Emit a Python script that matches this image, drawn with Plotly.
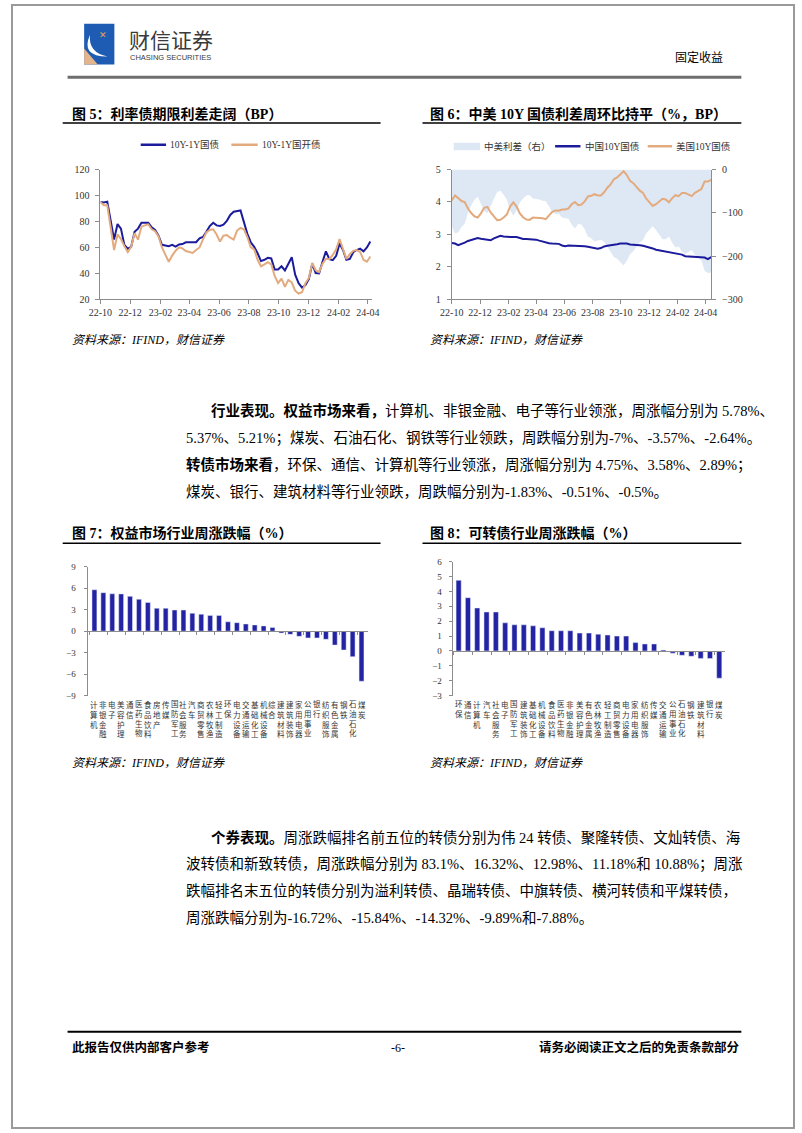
import plotly.graph_objects as go
import pandas as pd

W, H = 802, 1133
def X(px): return px / W
def Y(py): return 1 - py / H

SERIF = "Liberation Serif, Noto Sans CJK SC"

# ---------------- data ----------------
# Fig 5: 10Y-1Y term spreads (BP), weekly
dates5 = pd.date_range("2022-10-01", periods=80, freq="7D")
spread_gz = [95, 94.7, 95.3, 82, 66, 78, 74.5, 62, 59, 60.5,
             72, 74.5, 79, 79, 79, 75.5, 73.5, 69, 62, 61.5,
             61, 62, 60.7, 62.3, 62.6, 64, 64, 64, 64, 67,
             68, 72, 76.5, 79, 77, 76.5, 77.5, 80.5, 85, 87.5,
             88, 88.5, 79.5, 70.5, 64, 60.5, 55.5, 49.5, 50.5, 52,
             51.5, 43, 43, 45.5, 42.3, 48, 52.5, 39, 32.5, 29,
             31, 35.5, 47.5, 40.3, 40, 49, 57, 51, 50.2, 53.5,
             63, 58, 50.5, 51.2, 56.3, 58, 59, 57, 60, 64.5]
spread_gk = [95, 92.5, 92.5, 76, 58, 70, 66.5, 61, 56.5, 60.5,
             71, 66, 76, 77, 77.8, 74, 72.5, 68.5, 60, 54.5,
             49, 53.7, 57.5, 60, 59.3, 57.2, 56.5, 55.8, 58, 60,
             66, 71.5, 73.5, 74, 70, 64.5, 69, 69.5, 67.5, 66,
             73, 75, 74, 68, 60, 58.5, 50.5, 45.5, 47, 48.6,
             47, 38, 32.5, 36, 29.7, 35, 33, 26.7, 24.5, 25.5,
             32.5, 36.5, 48, 42.5, 41, 47.5, 51.3, 51, 54.2, 58.5,
             66.5, 59.5, 51.2, 54.8, 57.4, 58, 56.6, 50.5, 49, 53]

# Fig 6: China / US 10Y yields (%), spread (BP), weekly
dates6 = pd.date_range("2022-10-01", periods=81, freq="7D")
cn10 = [2.74, 2.72, 2.67, 2.70, 2.75, 2.80, 2.83, 2.86, 2.89, 2.87,
        2.86, 2.84, 2.82, 2.88, 2.92, 2.96, 2.94, 2.92, 2.92, 2.92,
        2.92, 2.89, 2.86, 2.86, 2.86, 2.85, 2.84, 2.81, 2.78, 2.74,
        2.73, 2.72, 2.71, 2.71, 2.66, 2.64, 2.66, 2.66, 2.64, 2.64,
        2.65, 2.64, 2.62, 2.60, 2.58, 2.56, 2.58, 2.63, 2.65, 2.66,
        2.68, 2.70, 2.72, 2.73, 2.72, 2.69, 2.69, 2.69, 2.67, 2.65,
        2.63, 2.60, 2.57, 2.53, 2.51, 2.49, 2.47, 2.44, 2.43, 2.41,
        2.40, 2.38, 2.33, 2.32, 2.32, 2.31, 2.31, 2.30, 2.29, 2.24,
        2.30]
us10 = [4.05, 4.20, 4.12, 4.03, 4.00, 3.80, 3.66, 3.56, 3.52, 3.65,
        3.82, 3.85, 3.68, 3.56, 3.44, 3.45, 3.52, 3.62, 3.86, 3.99,
        3.86, 3.65, 3.53, 3.46, 3.45, 3.52, 3.52, 3.50, 3.50, 3.47,
        3.58, 3.70, 3.74, 3.73, 3.77, 3.77, 3.80, 3.93, 4.00, 3.90,
        3.92, 4.02, 4.17, 4.19, 4.24, 4.20, 4.20, 4.30, 4.44, 4.54,
        4.70, 4.76, 4.85, 4.95, 4.83, 4.65, 4.58, 4.46, 4.35, 4.28,
        4.10, 3.99, 3.88, 3.93, 4.03, 4.10, 4.08, 3.99, 4.12, 4.21,
        4.18, 4.28, 4.28, 4.23, 4.18, 4.28, 4.35, 4.40, 4.63, 4.63,
        4.68]
cn_us_spread = [-131, -148, -145, -133, -125, -100, -83, -70, -63, -78,
                -96, -101, -86, -68, -52, -49, -58, -70, -94, -107,
                -94, -76, -67, -60, -59, -67, -68, -69, -72, -73,
                -85, -98, -103, -102, -111, -113, -114, -127, -136, -126,
                -127, -138, -155, -159, -166, -164, -162, -167, -179, -188,
                -202, -206, -213, -222, -211, -196, -189, -177, -168, -163,
                -147, -139, -131, -140, -152, -161, -161, -155, -169, -180,
                -178, -190, -195, -191, -186, -197, -204, -210, -234, -239,
                -238]

# Fig 7: equity industries weekly change (%)
eq_cats = ["计算机", "非银金融", "电子", "美容护理", "通信", "医药生物", "食品饮料",
           "房地产", "传媒", "国防军工", "社会服务", "汽车", "商贸零售", "农林牧渔",
           "轻工制造", "环保", "电力设备", "交通运输", "基础化工", "机械设备", "综合",
           "建筑材料", "建筑装饰", "家用电器", "公用事业", "银行", "纺织服饰",
           "有色金属", "钢铁", "石油石化", "煤炭"]
eq_vals = [5.78, 5.37, 5.21, 5.2, 4.86, 4.45, 4.0, 3.2, 3.2, 2.95, 2.95, 2.5,
           2.36, 2.2, 2.2, 1.3, 1.18, 1.0, 0.86, 0.73, 0.5, -0.27, -0.45,
           -0.73, -0.95, -0.95, -1.14, -1.95, -2.64, -3.57, -7.0]

# Fig 8: convertible bond industries weekly change (%)
cb_cats = ["环保", "通信", "计算机", "汽车", "社会服务", "电子", "国防军工",
           "建筑装饰", "基础化工", "机械设备", "食品饮料", "医药生物", "非银金融",
           "美容护理", "有色金属", "农林牧渔", "轻工制造", "商贸零售", "电力设备",
           "家用电器", "纺织服饰", "传媒", "交通运输", "公用事业", "石油石化",
           "钢铁", "建筑材料", "银行", "煤炭"]
cb_vals = [4.75, 3.58, 2.89, 2.62, 2.62, 1.89, 1.76, 1.76, 1.69, 1.56, 1.36,
           1.36, 1.36, 1.2, 1.2, 1.13, 1.07, 1.0, 1.0, 0.56, 0.47, 0.47, 0.07,
           -0.15, -0.29, -0.36, -0.5, -0.51, -1.83]

# ---------------- colours ----------------
NAVY = "#1B1B9C"
TAN = "#E3AA7E"
AREA = "#DDE8F4"
BAR = "#2323A3"
AX = "#8C8C8C"

fig = go.Figure()

# Fig 5
fig.add_trace(go.Scatter(x=dates5, y=spread_gz, mode="lines", line=dict(color=NAVY, width=2),
                         xaxis="x", yaxis="y", showlegend=False))
fig.add_trace(go.Scatter(x=dates5, y=spread_gk, mode="lines", line=dict(color=TAN, width=2),
                         xaxis="x", yaxis="y", showlegend=False))

# Fig 6 (spread on base right axis y2, yields on overlaying left axis y3)
fig.add_trace(go.Scatter(x=dates6, y=cn_us_spread, mode="lines", line=dict(color=AREA, width=0),
                         fill="tozeroy", fillcolor=AREA, xaxis="x2", yaxis="y2", showlegend=False))
fig.add_trace(go.Scatter(x=dates6, y=us10, mode="lines", line=dict(color=TAN, width=2),
                         xaxis="x2", yaxis="y3", showlegend=False))
fig.add_trace(go.Scatter(x=dates6, y=cn10, mode="lines", line=dict(color=NAVY, width=2),
                         xaxis="x2", yaxis="y3", showlegend=False))

# Fig 7 & 8 bars
fig.add_trace(go.Bar(x=eq_cats, y=eq_vals, marker=dict(color=BAR), width=0.55,
                     xaxis="x3", yaxis="y4", showlegend=False))
fig.add_trace(go.Bar(x=cb_cats, y=cb_vals, marker=dict(color=BAR), width=0.55,
                     xaxis="x4", yaxis="y5", showlegend=False))

tickfont = dict(family=SERIF, size=10, color="#333")
small_tick = dict(family=SERIF, size=9, color="#333")

common_date = dict(type="date", tickformat="%y-%m", dtick="M2", tick0="2022-10-01",
                   ticks="outside", ticklen=4, tickcolor=AX, showline=True, linecolor=AX,
                   linewidth=1, showgrid=False, zeroline=False, tickfont=tickfont)
yax = dict(ticks="outside", ticklen=4, tickcolor=AX, showline=True, linecolor=AX,
           showgrid=False, zeroline=False, ticklabelstandoff=4)

fig.update_layout(
    width=W, height=H, margin=dict(l=0, r=0, t=0, b=0),
    paper_bgcolor="white", plot_bgcolor="rgba(0,0,0,0)",
    xaxis=dict(domain=[X(90.7), X(369)], range=["2022-10-01", "2024-04-09"],
               anchor="y", **common_date),
    yaxis=dict(domain=[Y(297), Y(166)], range=[20, 120], dtick=20, anchor="x",
               tickfont=tickfont, **yax),
    xaxis2=dict(domain=[X(451), X(717)], range=["2022-10-01", "2024-04-13"],
                anchor="y2", **common_date),
    yaxis2=dict(domain=[Y(297), Y(166)], range=[-300, 0], dtick=100, anchor="x2", side="right",
                tickfont=tickfont, **yax),
    yaxis3=dict(range=[1, 5], dtick=1, anchor="x2", overlaying="y2", side="left",
                tickfont=tickfont, **yax),
    xaxis3=dict(domain=[X(78.4), X(364.6)], type="category", anchor="free", position=Y(631.7),
                showline=True, linecolor=AX, ticks="outside", ticklen=3, tickcolor=AX,
                tickson="boundaries", showticklabels=False, showgrid=False, zeroline=False),
    yaxis4=dict(domain=[Y(696.7), Y(566.7)], range=[-9, 9], dtick=3, anchor="x3",
                tickfont=small_tick, **{**yax, "ticklen": 3, "ticklabelstandoff": 7}),
    xaxis4=dict(domain=[X(451.9), X(731.5)], type="category", anchor="free", position=Y(651.7),
                showline=True, linecolor=AX, ticks="outside", ticklen=3, tickcolor=AX,
                tickson="boundaries", showticklabels=False, showgrid=False, zeroline=False),
    yaxis5=dict(domain=[Y(696.7), Y(561.7)], range=[-3, 6], dtick=1, anchor="x4",
                tickfont=small_tick, **{**yax, "ticklen": 3, "ticklabelstandoff": 5}),
)

ann = []
shapes = []

def text(px, py, s, size=12, color="#000", xanchor="left", family=SERIF, yanchor="middle"):
    ann.append(dict(x=X(px), y=Y(py), xref="paper", yref="paper", text=s, showarrow=False,
                    xanchor=xanchor, yanchor=yanchor, align=xanchor if xanchor != "center" else "center",
                    borderpad=0, font=dict(family=family, size=size, color=color)))

def hline(x0, x1, py, color="#000", width=1):
    shapes.append(dict(type="line", xref="paper", yref="paper", x0=X(x0), x1=X(x1),
                       y0=Y(py), y1=Y(py), line=dict(color=color, width=width)))

# page frame
shapes.append(dict(type="rect", xref="paper", yref="paper", x0=0, x1=1, y0=0, y1=1,
                   line=dict(color="#9A9A9A", width=2)))

# header logo
shapes.append(dict(type="rect", xref="paper", yref="paper", x0=X(74), x1=X(105), y0=Y(60), y1=Y(19),
                   fillcolor="#1E5CB3", line=dict(width=0)))
shapes.append(dict(type="path", xref="paper", yref="paper",
                   path=f"M {X(74)},{Y(44)} L {X(74)},{Y(60)} L {X(88)},{Y(60)} Z",
                   fillcolor="#E2B58C", line=dict(width=0)))
shapes.append(dict(type="path", xref="paper", yref="paper",
                   path=f"M {X(80)},{Y(30)} Q {X(70)},{Y(52)} {X(98)},{Y(52)} Q {X(78)},{Y(48)} {X(80)},{Y(30)} Z",
                   fillcolor="white", line=dict(width=0)))
text(93, 30, "✕", size=9, color="#F0A050", xanchor="center", family="DejaVu Sans")
text(119, 34, "财信证券", size=21, color="#3A3A3A", family="Noto Sans CJK SC")
text(120, 53, "CHASING SECURITIES", size=7.5, color="#3A3A3A", family="Liberation Sans")
text(730, 53, "固定收益", size=12, color="#000", xanchor="right")
hline(57, 748, 73, color="#6E6E6E", width=3)

# chart titles
text(60, 110, "<b>图 5：利率债期限利差走阔（BP）</b>", size=14)
hline(52, 378, 119, width=1.5)
text(428, 110, "<b>图 6：中美 10Y 国债利差周环比持平（%，BP）</b>", size=14)
hline(421, 748, 119, width=1.5)
text(60, 533, "<b>图 7：权益市场行业周涨跌幅（%）</b>", size=14)
hline(52, 378, 543, width=1.5)
text(428, 533, "<b>图 8：可转债行业周涨跌幅（%）</b>", size=14)
hline(421, 748, 543, width=1.5)

# legends fig 5
hline(132, 158, 141, color=NAVY, width=2.5)
text(161, 141, "10Y-1Y国债", size=9.5, color="#333")
hline(225, 252, 141, color=TAN, width=2.5)
text(255, 141, "10Y-1Y国开债", size=9.5, color="#333")

# legends fig 6
shapes.append(dict(type="rect", xref="paper", yref="paper", x0=X(453), x1=X(480), y0=Y(146.5),
                   y1=Y(139), fillcolor=AREA, line=dict(width=0)))
text(483, 142.5, "中美利差（右）", size=9.5, color="#333")
hline(557, 583, 142.5, color=NAVY, width=2.5)
text(587, 142.5, "中国10Y国债", size=9.5, color="#333")
hline(652, 677, 142.5, color=TAN, width=2.5)
text(680, 142.5, "美国10Y国债", size=9.5, color="#333")

# sources
for sx, sy in [(60, 338), (428, 338), (60, 765), (428, 765)]:
    text(sx, sy, "<i>资料来源：IFIND，财信证券</i>", size=12, color="#000")

# category labels (vertical)
for c in eq_cats:
    ann.append(dict(x=c, y=Y(699), xref="x3", yref="paper", text="<br>".join(c), showarrow=False,
                    xanchor="center", yanchor="top", font=dict(family=SERIF, size=7.5, color="#333")))
for c in cb_cats:
    ann.append(dict(x=c, y=Y(699), xref="x4", yref="paper", text="<br>".join(c), showarrow=False,
                    xanchor="center", yanchor="top", font=dict(family=SERIF, size=7.5, color="#333")))

# body paragraphs
body1 = ["<b>行业表现。权益市场来看，</b>计算机、非银金融、电子等行业领涨，周涨幅分别为 5.78%、",
         "5.37%、5.21%；煤炭、石油石化、钢铁等行业领跌，周跌幅分别为-7%、-3.57%、-2.64%。",
         "<b>转债市场来看</b>，环保、通信、计算机等行业领涨，周涨幅分别为 4.75%、3.58%、2.89%；",
         "煤炭、银行、建筑材料等行业领跌，周跌幅分别为-1.83%、-0.51%、-0.5%。"]
body2 = ["<b>个券表现。</b>周涨跌幅排名前五位的转债分别为伟 24 转债、聚隆转债、文灿转债、海",
         "波转债和新致转债，周涨跌幅分别为 83.1%、16.32%、12.98%、11.18%和 10.88%；周涨",
         "跌幅排名末五位的转债分别为溢利转债、晶瑞转债、中旗转债、横河转债和平煤转债，",
         "周涨跌幅分别为-16.72%、-15.84%、-14.32%、-9.89%和-7.88%。"]
for i, (s, py) in enumerate(zip(body1, [409, 437, 464, 491])):
    text(203 if i == 0 else 177, py, s, size=14.5)
for i, (s, py) in enumerate(zip(body2, [840, 867, 894, 921])):
    text(203 if i == 0 else 177, py, s, size=14.5)

# footer
hline(57, 748, 1036, color="#000", width=2)
text(60, 1052, "<b>此报告仅供内部客户参考</b>", size=12.5)
text(396, 1052, "-6-", size=12, xanchor="center")
text(748, 1052, "<b>请务必阅读正文之后的免责条款部分</b>", size=12.5, xanchor="right")

fig.update_layout(annotations=ann, shapes=shapes)
fig.write_html("out.html",
               post_script="document.body.style.margin='0';document.body.style.overflow='hidden';")
